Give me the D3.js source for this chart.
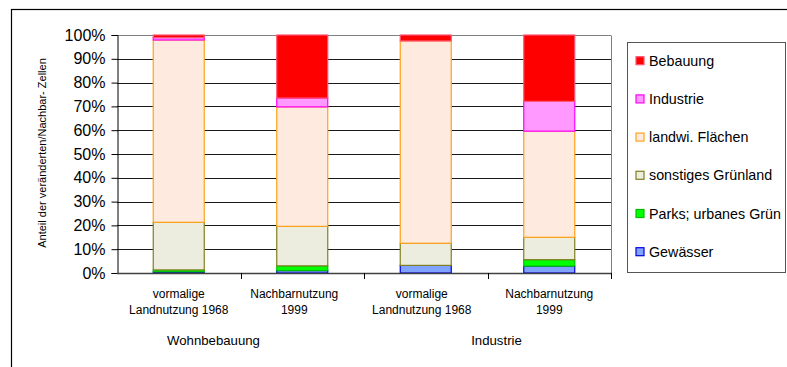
<!DOCTYPE html>
<html><head><meta charset="utf-8">
<script src="https://cdn.jsdelivr.net/npm/d3@7"></script>
<style>body{margin:0;background:#fff}svg{display:block;font-family:"Liberation Sans",Arial,sans-serif}</style>
</head><body><svg id="c" width="787" height="367"></svg>
<script>
const categories = [["vormalige","Landnutzung 1968"],["Nachbarnutzung","1999"],["vormalige","Landnutzung 1968"],["Nachbarnutzung","1999"]];
const groups = ["Wohnbebauung","Industrie"];
const seriesNames = ["Gewässer","Parks; urbanes Grün","sonstiges Grünland","landwi. Flächen","Industrie","Bebauung"];
const gewaesser = [0.5, 1.0, 3.2, 2.9];
const parks     = [0.8, 2.0, 0.0, 2.7];
const gruenland = [20.0, 16.6, 9.3, 9.4];
const landwi    = [76.6, 50.2, 85.0, 44.6];
const industrie = [1.0, 3.7, 0.0, 12.5];
const bebauung  = [1.1, 26.5, 2.5, 27.9];
const yTicks = [0,10,20,30,40,50,60,70,80,90,100];

const fills   = ["#7fa3ff","#00ff00","#ededdf","#ffeadf","#ff99ff","#ff0000"];
const strokes = ["#0000e0","#00c000","#808020","#ffa31a","#ff00ff","#ff5577"];
const seriesVals = [gewaesser, parks, gruenland, landwi, industrie, bebauung];

const svg = d3.select("#c");
// outer frame
svg.append("rect").attr("x",11.5).attr("y",9.5).attr("width",900).attr("height",500)
  .attr("fill","none").attr("stroke","#000").attr("stroke-width",1.2);

const L=117, R=611, T=35, B=273;
const x = d3.scaleBand().domain(d3.range(categories.length)).range([L,R]).paddingInner(0).paddingOuter(0);
const y = d3.scaleLinear().domain([0,100]).range([B,T]);
const bw = 51;

// gridlines
svg.append("g").selectAll("line").data(yTicks.filter(t=>t>0)).join("line")
  .attr("x1",L).attr("x2",R).attr("y1",d=>Math.round(y(d))+0.5).attr("y2",d=>Math.round(y(d))+0.5)
  .attr("stroke",d=>d===100?"#808080":"#1a1a1a").attr("stroke-width",1);
// right border
svg.append("line").attr("x1",R+0.5).attr("x2",R+0.5).attr("y1",Math.round(y(100))+0.5).attr("y2",B)
  .attr("stroke","#808080");

// stack
const rows = categories.map((c,i)=>{const o={i}; seriesNames.forEach((s,k)=>o[s]=seriesVals[k][i]); return o;});
const stack = d3.stack().keys(seriesNames)(rows);
stack.forEach((layer,k)=>{
  svg.append("g").selectAll("rect").data(layer.filter(d=>d[1]-d[0]>0)).join("rect")
    .attr("x",d=>x(d.data.i)+(x.bandwidth()-bw)/2)
    .attr("width",bw)
    .attr("y",d=>y(d[1]))
    .attr("height",d=>y(d[0])-y(d[1]))
    .attr("fill",fills[k]).attr("stroke",strokes[k]).attr("stroke-width",1.2);
});

// y axis
const yAxis = svg.append("g").attr("transform",`translate(${L+0.5},0)`)
  .call(d3.axisLeft(y).tickValues(yTicks).tickFormat(d=>d+"%").tickSizeOuter(0).tickSize(6));
yAxis.select(".domain").attr("stroke","#000");
yAxis.selectAll(".tick line").attr("stroke","#000");
yAxis.selectAll("text").attr("font-size",16).attr("fill","#000").attr("x",-12).attr("font-family","Liberation Sans, Arial");

// x axis line + ticks at band boundaries
svg.append("line").attr("x1",L).attr("x2",R+1).attr("y1",B+0.5).attr("y2",B+0.5).attr("stroke","#404040").attr("stroke-width",1.5);
const bounds = d3.range(1,categories.length+1).map(i=>L+i*x.bandwidth());
svg.append("g").selectAll("line").data(bounds).join("line")
  .attr("x1",d=>Math.round(d)+0.5).attr("x2",d=>Math.round(d)+0.5).attr("y1",B).attr("y2",B+6).attr("stroke","#000");

// category labels
categories.forEach((c,i)=>{
  const cx = x(i)+x.bandwidth()/2 + (i===1?-8:i===2?-4:0);
  c.forEach((ln,j)=>{
    svg.append("text").attr("x",cx).attr("y",298+j*15.5).attr("text-anchor","middle")
      .attr("font-size",12).attr("fill","#000").text(ln);
  });
});
// group labels
groups.forEach((g,i)=>{
  const cx = x(i*2)+x.bandwidth() + (i===0?-27:9);
  svg.append("text").attr("x",cx).attr("y",345).attr("text-anchor","middle")
    .attr("font-size",13.2).attr("fill","#000").text(g);
});

// y title
svg.append("text").attr("transform","translate(46,153) rotate(-90)").attr("text-anchor","middle")
  .attr("font-size",11).attr("fill","#000").text("Anteil der veränderten/Nachbar- Zellen");

// legend
svg.append("rect").attr("x",627.5).attr("y",42.5).attr("width",158).attr("height",230)
  .attr("fill","#fff").attr("stroke","#555").attr("stroke-width",1);
const legOrder = seriesNames.map((s,k)=>k).reverse();
legOrder.forEach((k,j)=>{
  const cy = 60.7 + j*38.2;
  svg.append("rect").attr("x",636).attr("y",cy-4).attr("width",8).attr("height",8)
    .attr("fill",fills[k]).attr("stroke",strokes[k]).attr("stroke-width",1.2);
  svg.append("text").attr("x",649).attr("y",cy+5).attr("font-size",14.3).attr("fill","#000").text(seriesNames[k]);
});
</script></body></html>
